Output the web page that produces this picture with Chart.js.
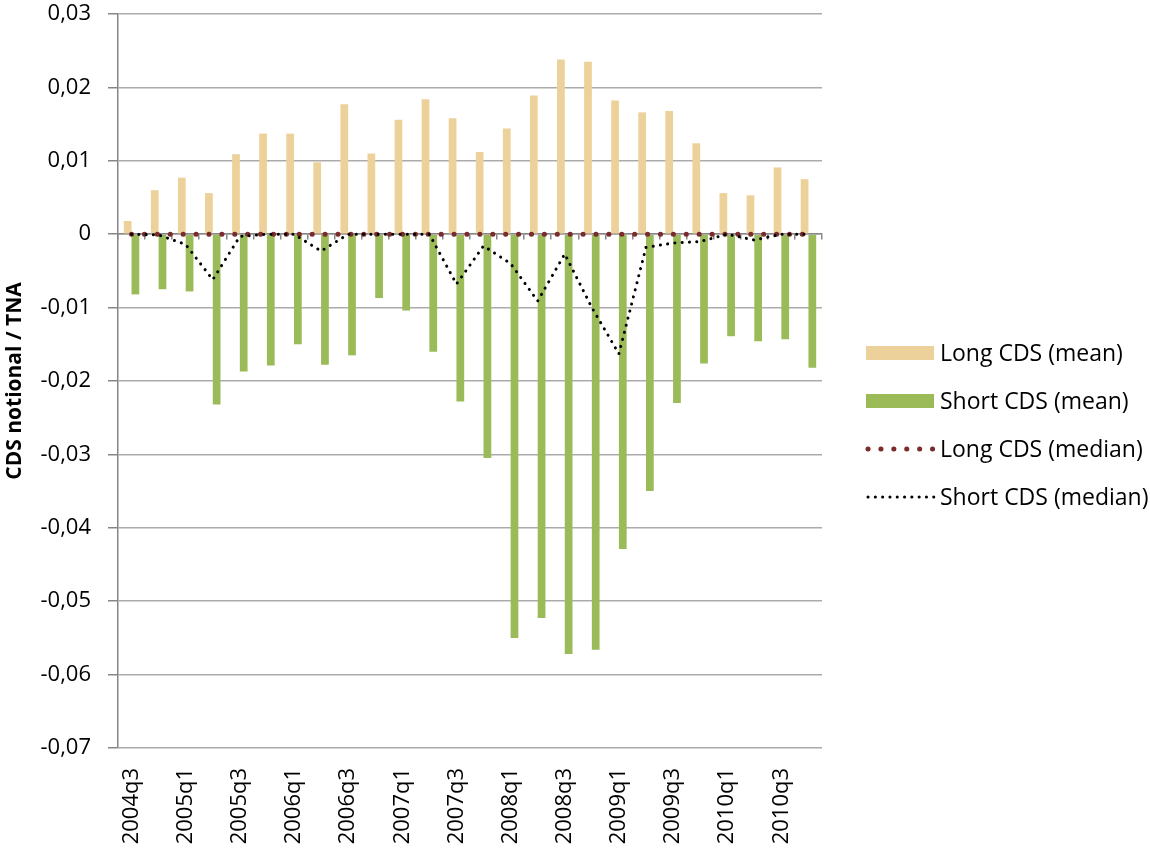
<!DOCTYPE html>
<html>
<head>
<meta charset="utf-8">
<script src="https://cdn.jsdelivr.net/npm/chart.js@4.4.0/dist/chart.umd.min.js"></script>
<style>
  html, body { margin: 0; padding: 0; background: #fff; }
  #wrap { width: 1150px; height: 855px; }
</style>
</head>
<body>
<div id="wrap"><canvas id="grafico"></canvas></div>
<script>
const trimestres = ['2004q3','2004q4','2005q1','2005q2','2005q3','2005q4','2006q1','2006q2','2006q3','2006q4',
  '2007q1','2007q2','2007q3','2007q4','2008q1','2008q2','2008q3','2008q4','2009q1','2009q2',
  '2009q3','2009q4','2010q1','2010q2','2010q3','2010q4']

const long_mean = [0.0018, 0.0060, 0.0077, 0.0056, 0.0109, 0.0137, 0.0137, 0.0098, 0.0177, 0.0110,
  0.0156, 0.0184, 0.0158, 0.0112, 0.0144, 0.0189, 0.0238, 0.0235, 0.0182, 0.0166,
  0.0168, 0.0124, 0.0056, 0.0053, 0.0091, 0.0075]

const short_mean = [-0.0082, -0.0075, -0.0078, -0.0232, -0.0187, -0.0179, -0.0150, -0.0178, -0.0165, -0.0087,
  -0.0104, -0.0160, -0.0228, -0.0305, -0.0550, -0.0523, -0.0572, -0.0566, -0.0429, -0.0350,
  -0.0230, -0.0176, -0.0139, -0.0146, -0.0143, -0.0182]

const long_median = [0, 0, 0, 0, 0, 0, 0, 0, 0, 0,
  0, 0, 0, 0, 0, 0, 0, 0, 0, 0,
  0, 0, 0, 0, 0, 0]

const short_median = [0, -0.0001, -0.0014, -0.0062, -0.0003, 0, 0, -0.0023, 0, 0,
  0, 0, -0.0068, -0.0016, -0.0040, -0.0091, -0.0027, -0.0100, -0.0163, -0.0018,
  -0.0012, -0.0010, 0, -0.0008, 0, 0]

const fonte = "'Open Sans', 'Noto Sans', sans-serif"

const fmt_tick = v => {
  const r = Math.round(v * 100) / 100
  return r === 0 ? '0' : r.toFixed(2).replace('.', ',')
}

// legend drawn by hand on the right, rows like the original
const legenda_lateral = {
  id: 'legenda_lateral',
  afterDraw(chart) {
    const ctx = chart.ctx
    const x0 = 866, larg = 68, y0 = 353, passo = 48
    chart.data.datasets.forEach((ds, i) => {
      const y = y0 + i * passo
      ctx.save()
      if (ds.type === 'line') {
        ctx.strokeStyle = ds.borderColor
        ctx.lineWidth = ds.borderWidth
        ctx.lineCap = 'round'
        ctx.setLineDash(ds.borderDash)
        ctx.beginPath()
        ctx.moveTo(x0 + 2, y)
        ctx.lineTo(x0 + larg, y)
        ctx.stroke()
      } else {
        ctx.fillStyle = ds.backgroundColor
        ctx.fillRect(x0, y - 7, larg, 14)
      }
      ctx.setLineDash([])
      ctx.fillStyle = '#000'
      ctx.font = `23px ${fonte}`
      ctx.textBaseline = 'middle'
      ctx.textAlign = 'left'
      ctx.fillText(ds.label, x0 + larg + 6, y + 1)
      ctx.restore()
    })
  }
}

const grafico = new Chart(document.getElementById('grafico'), {
  type: 'bar',
  data: {
    labels: trimestres,
    datasets: [
      {
        type: 'bar', label: 'Long CDS (mean)', data: long_mean,
        backgroundColor: '#ecd29a', order: 2,
        categoryPercentage: 0.571, barPercentage: 1
      },
      {
        type: 'bar', label: 'Short CDS (mean)', data: short_mean,
        backgroundColor: '#9bbb59', order: 2,
        categoryPercentage: 0.571, barPercentage: 1
      },
      {
        type: 'line', label: 'Long CDS (median)', data: long_median,
        borderColor: '#7a2b2b', borderWidth: 5, borderDash: [0.1, 12.8], borderCapStyle: 'round',
        pointRadius: 0, fill: false, tension: 0, order: 1
      },
      {
        type: 'line', label: 'Short CDS (median)', data: short_median,
        borderColor: '#000', borderWidth: 3, borderDash: [0.1, 7.2], borderCapStyle: 'round',
        pointRadius: 0, fill: false, tension: 0, order: 0
      }
    ]
  },
  options: {
    responsive: true,
    maintainAspectRatio: false,
    animation: false,
    layout: { padding: { top: 14, right: 328, left: 0, bottom: 0 } },
    plugins: {
      legend: { display: false },
      tooltip: { enabled: false }
    },
    scales: {
      x: {
        position: 'bottom',
        offset: true,
        grid: { display: false, drawTicks: false, offset: true },
        border: { display: false },
        ticks: {
          autoSkip: false, minRotation: 90, maxRotation: 90, padding: 20,
          color: '#000', font: { family: fonte, size: 22 },
          callback: (v, i) => i % 2 === 0 ? trimestres[i] : ''
        },
        afterFit: s => { s.height = 107 }
      },
      x0: {
        type: 'category',
        position: { y: 0 },
        offset: true,
        grid: { drawOnChartArea: false, drawTicks: true, tickLength: 5, offset: true, color: '#868686', lineWidth: 1.5 },
        border: { color: '#868686', width: 1.5 },
        ticks: { display: false, autoSkip: false },
        afterFit: s => { s.height = 5 }
      },
      y: {
        min: -0.07,
        max: 0.03,
        ticks: {
          stepSize: 0.01, padding: 17, color: '#000',
          font: { family: fonte, size: 22 },
          callback: fmt_tick
        },
        grid: { color: '#ababab', lineWidth: 1.5, tickLength: 10, tickColor: '#868686' },
        border: { color: '#868686', width: 1.5 },
        title: {
          display: true, text: 'CDS notional / TNA', color: '#000',
          font: { family: fonte, size: 21, weight: 'bold' },
          padding: { top: 2, bottom: 0 }
        },
        afterFit: s => {
          s.width = 118
          s.paddingTop = 0
          s.paddingBottom = 0
        }
      }
    }
  },
  plugins: [legenda_lateral]
})
</script>
</body>
</html>
